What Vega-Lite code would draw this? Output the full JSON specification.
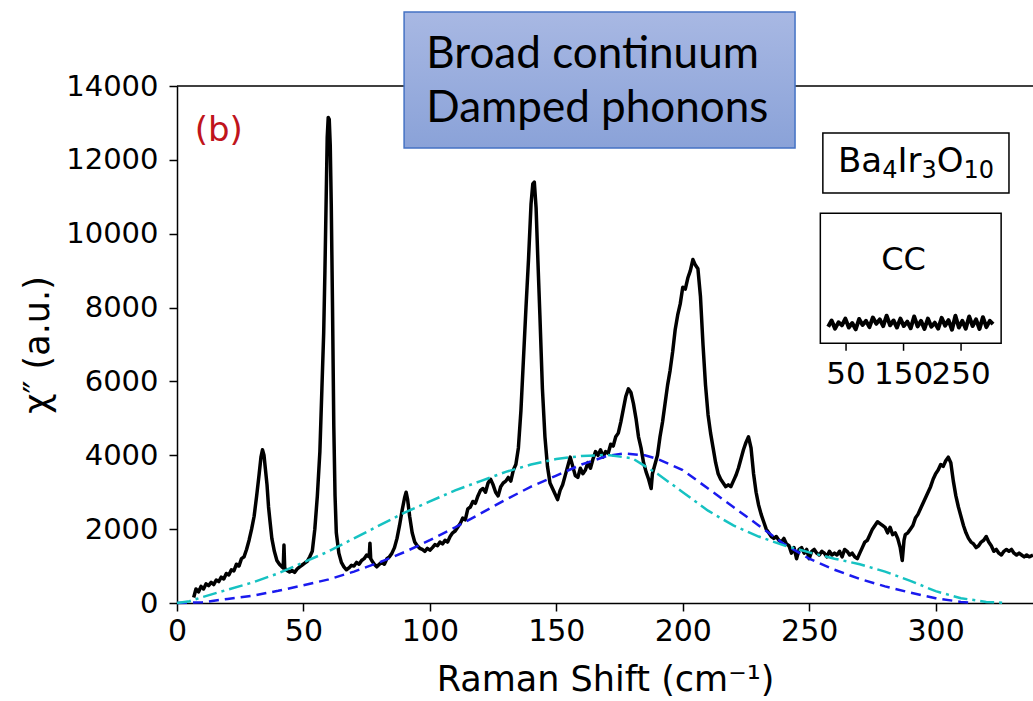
{
  "$schema": "https://vega.github.io/schema/vega-lite/v6.json",
  "width": 856,
  "height": 517,
  "autosize": {"type": "none"},
  "padding": {"left": 177, "top": 86, "right": 0, "bottom": 98},
  "background": "white",
  "config": {"view": {"stroke": null}, "font": "DejaVu Sans"},
  "data": {"values": [{"a": 1}]},
  "datasets": {
    "spec": [
      {"x":6.6,"y":150},{"x":7.5,"y":380},{"x":8.5,"y":300},{"x":9.5,"y":450},{"x":10.5,"y":380},{"x":11.5,"y":520},{"x":12.5,"y":470},{"x":13.5,"y":560},{"x":14.5,"y":500},{"x":15.5,"y":620},{"x":16.5,"y":580},{"x":17.5,"y":700},{"x":18.5,"y":650},{"x":19.5,"y":800},{"x":20.5,"y":760},{"x":21.5,"y":900},{"x":22.5,"y":870},{"x":23.5,"y":1050},{"x":24.5,"y":1000},{"x":25.5,"y":1200},{"x":26.5,"y":1250},{"x":27.5,"y":1450},{"x":28.5,"y":1700},{"x":29.5,"y":2000},{"x":30.5,"y":2350},{"x":31.5,"y":2900},{"x":32.5,"y":3500},{"x":33.2,"y":3950},{"x":33.8,"y":4150},{"x":34.4,"y":4000},{"x":35,"y":3600},{"x":35.6,"y":3200},{"x":36.2,"y":2600},{"x":36.8,"y":2200},{"x":37.5,"y":1750},{"x":38.5,"y":1400},{"x":39.5,"y":1150},{"x":40.5,"y":1050},{"x":41.5,"y":980},{"x":42,"y":950},{"x":42.3,"y":1570},{"x":42.6,"y":940},{"x":43.5,"y":880},{"x":44.5,"y":840},{"x":45.5,"y":880},{"x":46.5,"y":830},{"x":47.5,"y":920},{"x":48.5,"y":980},{"x":49.5,"y":1030},{"x":50.5,"y":1080},{"x":51.5,"y":1130},{"x":52.5,"y":1250},{"x":53.5,"y":1400},{"x":54.5,"y":2000},{"x":55.5,"y":2900},{"x":56.5,"y":4100},{"x":57.3,"y":5800},{"x":58,"y":7300},{"x":58.5,"y":9000},{"x":59,"y":11000},{"x":59.4,"y":12600},{"x":59.8,"y":13150},{"x":60.2,"y":13100},{"x":60.6,"y":12400},{"x":61,"y":10800},{"x":61.5,"y":8000},{"x":62,"y":4800},{"x":62.5,"y":2900},{"x":63,"y":1900},{"x":64,"y":1350},{"x":65,"y":1100},{"x":66,"y":980},{"x":67,"y":900},{"x":68,"y":950},{"x":69,"y":1020},{"x":70,"y":1000},{"x":71,"y":1100},{"x":72,"y":1050},{"x":73,"y":1150},{"x":74,"y":1200},{"x":75,"y":1300},{"x":76,"y":1250},{"x":76.3,"y":1620},{"x":76.6,"y":1200},{"x":77,"y":1150},{"x":78,"y":1050},{"x":79,"y":980},{"x":80,"y":1050},{"x":81,"y":1100},{"x":82,"y":1050},{"x":83,"y":1200},{"x":84,"y":1250},{"x":85,"y":1350},{"x":86,"y":1500},{"x":87,"y":1750},{"x":88,"y":2100},{"x":89,"y":2500},{"x":90,"y":2850},{"x":90.6,"y":3000},{"x":91.2,"y":2800},{"x":92,"y":2350},{"x":93,"y":1900},{"x":94,"y":1650},{"x":95,"y":1550},{"x":96,"y":1480},{"x":97,"y":1450},{"x":98,"y":1400},{"x":99,"y":1480},{"x":100,"y":1430},{"x":101,"y":1500},{"x":102,"y":1580},{"x":103,"y":1550},{"x":104,"y":1650},{"x":105,"y":1600},{"x":106,"y":1700},{"x":107,"y":1650},{"x":108,"y":1800},{"x":109,"y":1900},{"x":110,"y":1950},{"x":111,"y":2050},{"x":112,"y":2150},{"x":113,"y":2300},{"x":114,"y":2250},{"x":115,"y":2550},{"x":116,"y":2600},{"x":117,"y":2750},{"x":118,"y":2700},{"x":119,"y":2900},{"x":120,"y":3050},{"x":121,"y":3100},{"x":122,"y":3000},{"x":123,"y":3250},{"x":124,"y":3350},{"x":125,"y":3200},{"x":126,"y":3000},{"x":127,"y":2900},{"x":128,"y":3150},{"x":129,"y":3250},{"x":130,"y":3300},{"x":131,"y":3400},{"x":132,"y":3300},{"x":133,"y":3600},{"x":134,"y":3750},{"x":135,"y":4200},{"x":136,"y":5200},{"x":137,"y":6600},{"x":138,"y":8000},{"x":139,"y":9300},{"x":140,"y":10800},{"x":140.7,"y":11350},{"x":141.3,"y":11400},{"x":142,"y":10700},{"x":142.7,"y":9300},{"x":143.5,"y":7800},{"x":144.5,"y":5800},{"x":145.5,"y":4500},{"x":146.5,"y":3700},{"x":147.5,"y":3250},{"x":148.5,"y":3100},{"x":149.5,"y":2950},{"x":150.5,"y":2800},{"x":151.5,"y":3050},{"x":152.5,"y":3200},{"x":153.5,"y":3450},{"x":154.5,"y":3700},{"x":155.5,"y":3950},{"x":156.5,"y":3700},{"x":157.5,"y":3450},{"x":158.5,"y":3400},{"x":159.5,"y":3650},{"x":160.5,"y":3500},{"x":161.5,"y":3600},{"x":162.5,"y":3800},{"x":163.5,"y":3650},{"x":164.5,"y":3900},{"x":165.5,"y":4100},{"x":166.5,"y":4000},{"x":167.5,"y":4150},{"x":168.5,"y":3950},{"x":169.5,"y":4100},{"x":170.5,"y":4050},{"x":171.5,"y":4300},{"x":172.5,"y":4250},{"x":173.5,"y":4500},{"x":174.5,"y":4600},{"x":175.5,"y":4900},{"x":176.5,"y":5250},{"x":177.5,"y":5600},{"x":178.5,"y":5800},{"x":179.5,"y":5700},{"x":180.5,"y":5400},{"x":181.5,"y":5000},{"x":182.5,"y":4500},{"x":183.5,"y":4200},{"x":184.5,"y":3800},{"x":185.5,"y":3550},{"x":186.5,"y":3350},{"x":187.5,"y":3100},{"x":188,"y":3500},{"x":189,"y":3750},{"x":190,"y":4000},{"x":191,"y":4500},{"x":192,"y":4900},{"x":193,"y":5400},{"x":194,"y":5900},{"x":195,"y":6300},{"x":196,"y":6800},{"x":197,"y":7400},{"x":198,"y":7800},{"x":199,"y":8100},{"x":200,"y":8550},{"x":201,"y":8500},{"x":202,"y":8800},{"x":203,"y":9000},{"x":204,"y":9300},{"x":205,"y":9150},{"x":206,"y":9050},{"x":207,"y":8300},{"x":208,"y":7000},{"x":209,"y":5900},{"x":210,"y":5100},{"x":211,"y":4600},{"x":212,"y":4200},{"x":213,"y":3800},{"x":214,"y":3500},{"x":215,"y":3350},{"x":216,"y":3250},{"x":217,"y":3150},{"x":218,"y":3200},{"x":219,"y":3150},{"x":220,"y":3300},{"x":221,"y":3450},{"x":222,"y":3650},{"x":223,"y":3900},{"x":224,"y":4150},{"x":225,"y":4350},{"x":226,"y":4500},{"x":227,"y":4200},{"x":228,"y":3500},{"x":229,"y":3000},{"x":230,"y":2650},{"x":231,"y":2400},{"x":232,"y":2200},{"x":233,"y":2000},{"x":234,"y":1900},{"x":235,"y":1800},{"x":236,"y":1750},{"x":237,"y":1800},{"x":238,"y":1700},{"x":239,"y":1650},{"x":240,"y":1750},{"x":241,"y":1600},{"x":242,"y":1550},{"x":243,"y":1350},{"x":244,"y":1500},{"x":245,"y":1200},{"x":246,"y":1450},{"x":247,"y":1500},{"x":248,"y":1350},{"x":249,"y":1450},{"x":250,"y":1200},{"x":251,"y":1400},{"x":252,"y":1450},{"x":253,"y":1350},{"x":254,"y":1300},{"x":255,"y":1400},{"x":256,"y":1350},{"x":257,"y":1250},{"x":258,"y":1400},{"x":259,"y":1300},{"x":260,"y":1350},{"x":261,"y":1300},{"x":262,"y":1400},{"x":263,"y":1250},{"x":264,"y":1450},{"x":265,"y":1400},{"x":266,"y":1300},{"x":267,"y":1350},{"x":268,"y":1250},{"x":269,"y":1200},{"x":270,"y":1350},{"x":271,"y":1500},{"x":272,"y":1650},{"x":273,"y":1700},{"x":274,"y":1850},{"x":275,"y":2000},{"x":276,"y":2100},{"x":277,"y":2200},{"x":278,"y":2150},{"x":279,"y":2100},{"x":280,"y":2050},{"x":281,"y":1900},{"x":282,"y":2050},{"x":283,"y":1850},{"x":284,"y":1900},{"x":285,"y":1750},{"x":286,"y":1500},{"x":286.8,"y":1150},{"x":287.5,"y":1700},{"x":288,"y":1850},{"x":289,"y":1900},{"x":290,"y":2000},{"x":291,"y":2100},{"x":292,"y":2300},{"x":293,"y":2400},{"x":294,"y":2550},{"x":295,"y":2700},{"x":296,"y":2850},{"x":297,"y":3000},{"x":298,"y":3150},{"x":299,"y":3350},{"x":300,"y":3500},{"x":301,"y":3600},{"x":302,"y":3750},{"x":303,"y":3700},{"x":304,"y":3850},{"x":305,"y":3950},{"x":306,"y":3800},{"x":307,"y":3300},{"x":308,"y":2900},{"x":309,"y":2600},{"x":310,"y":2350},{"x":311,"y":2100},{"x":312,"y":1900},{"x":313,"y":1750},{"x":314,"y":1650},{"x":315,"y":1600},{"x":316,"y":1500},{"x":317,"y":1550},{"x":318,"y":1650},{"x":319,"y":1700},{"x":320,"y":1800},{"x":321,"y":1650},{"x":322,"y":1550},{"x":323,"y":1400},{"x":324,"y":1450},{"x":325,"y":1350},{"x":326,"y":1300},{"x":327,"y":1400},{"x":328,"y":1450},{"x":329,"y":1400},{"x":330,"y":1450},{"x":331,"y":1350},{"x":332,"y":1300},{"x":333,"y":1350},{"x":334,"y":1300},{"x":335,"y":1250},{"x":336,"y":1300},{"x":337,"y":1250},{"x":338.5,"y":1300}
    ],
    "blue": [
      {"x":0,"y":0},{"x":10,"y":20},{"x":20,"y":110},{"x":30,"y":200},{"x":40,"y":330},{"x":50,"y":480},{"x":60,"y":640},{"x":70,"y":850},{"x":80,"y":1100},{"x":90,"y":1380},{"x":100,"y":1700},{"x":110,"y":2050},{"x":120,"y":2420},{"x":130,"y":2800},{"x":140,"y":3150},{"x":150,"y":3450},{"x":160,"y":3750},{"x":170,"y":3980},{"x":177,"y":4050},{"x":185,"y":4000},{"x":190,"y":3900},{"x":200,"y":3600},{"x":210,"y":3100},{"x":220,"y":2600},{"x":230,"y":2100},{"x":240,"y":1600},{"x":250,"y":1200},{"x":260,"y":900},{"x":270,"y":650},{"x":280,"y":450},{"x":290,"y":280},{"x":300,"y":130},{"x":310,"y":30},{"x":315,"y":0}
    ],
    "cyan": [
      {"x":0,"y":0},{"x":5,"y":50},{"x":10,"y":160},{"x":20,"y":360},{"x":30,"y":560},{"x":40,"y":800},{"x":50,"y":1100},{"x":60,"y":1400},{"x":70,"y":1750},{"x":80,"y":2100},{"x":90,"y":2450},{"x":100,"y":2750},{"x":110,"y":3050},{"x":120,"y":3300},{"x":130,"y":3550},{"x":140,"y":3750},{"x":150,"y":3900},{"x":160,"y":3980},{"x":170,"y":4010},{"x":180,"y":3920},{"x":190,"y":3500},{"x":200,"y":3000},{"x":210,"y":2500},{"x":220,"y":2100},{"x":230,"y":1800},{"x":240,"y":1560},{"x":250,"y":1370},{"x":260,"y":1200},{"x":270,"y":1050},{"x":280,"y":850},{"x":290,"y":600},{"x":300,"y":320},{"x":310,"y":130},{"x":320,"y":30},{"x":328,"y":0}
    ],
    "cc": [
      {"x":257.5,"y":7480},{"x":258.86,"y":7650},{"x":260.22,"y":7430},{"x":261.58,"y":7600},{"x":262.94,"y":7520},{"x":264.3,"y":7700},{"x":265.66,"y":7460},{"x":267.02,"y":7580},{"x":268.38,"y":7410},{"x":269.74,"y":7690},{"x":271.1,"y":7530},{"x":272.46,"y":7640},{"x":273.82,"y":7470},{"x":275.18,"y":7730},{"x":276.54,"y":7560},{"x":277.9,"y":7680},{"x":279.26,"y":7500},{"x":280.62,"y":7780},{"x":281.98,"y":7520},{"x":283.34,"y":7650},{"x":284.7,"y":7460},{"x":286.06,"y":7700},{"x":287.42,"y":7500},{"x":288.78,"y":7620},{"x":290.14,"y":7440},{"x":291.5,"y":7760},{"x":292.86,"y":7490},{"x":294.22,"y":7640},{"x":295.58,"y":7420},{"x":296.94,"y":7700},{"x":298.3,"y":7480},{"x":299.66,"y":7590},{"x":301.02,"y":7430},{"x":302.38,"y":7720},{"x":303.74,"y":7510},{"x":305.1,"y":7660},{"x":306.46,"y":7400},{"x":307.82,"y":7780},{"x":309.18,"y":7460},{"x":310.54,"y":7640},{"x":311.9,"y":7430},{"x":313.26,"y":7760},{"x":314.62,"y":7500},{"x":315.98,"y":7680},{"x":317.34,"y":7420},{"x":318.7,"y":7740},{"x":320.06,"y":7470},{"x":321.42,"y":7640},{"x":322.7,"y":7550}
    ],
    "ccticks": [
      {"x": 264.57, "lab": "50"}, {"x": 287.31, "lab": "150"}, {"x": 310.05, "lab": "250"}
    ]
  },
  "layer": [
    {
      "mark": {"type": "rule", "color": "black", "strokeWidth": 1.5},
      "encoding": {"y": {"datum": 14000, "type": "quantitative"}}
    },
    {
      "data": {"name": "spec"},
      "mark": {"type": "line", "color": "black", "strokeWidth": 3.5, "strokeJoin": "round"},
      "encoding": {
        "x": {"field": "x", "type": "quantitative",
          "scale": {"domain": [0, 338.5], "nice": false, "zero": false},
          "axis": {"orient": "bottom", "values": [0,50,100,150,200,250,300], "format": "d", "title": "Raman Shift (cm⁻¹)", "grid": false,
            "tickSize": 8, "tickWidth": 1.5, "tickColor": "black", "domainColor": "black", "domainWidth": 1.5,
            "labelFont": "DejaVu Sans", "labelFontSize": 30, "labelColor": "black", "labelPadding": 5, "labelFlush": false,
            "titleFont": "DejaVu Sans", "titleFontSize": 35, "titleFontWeight": "normal", "titleColor": "black", "titlePadding": 16}},
        "y": {"field": "y", "type": "quantitative",
          "scale": {"domain": [0, 14000], "nice": false},
          "axis": {"orient": "left", "values": [0,2000,4000,6000,8000,10000,12000,14000], "format": "d", "title": "χ″ (a.u.)", "grid": false,
            "tickSize": 8, "tickWidth": 1.5, "tickColor": "black", "domainColor": "black", "domainWidth": 1.5,
            "labelFont": "DejaVu Sans", "labelFontSize": 29, "labelColor": "black", "labelPadding": 11,
            "titleFont": "DejaVu Sans", "titleFontSize": 35, "titleFontWeight": "normal", "titleColor": "black", "titlePadding": 10}}
      }
    },
    {
      "data": {"name": "blue"},
      "mark": {"type": "line", "color": "#1a1aee", "strokeWidth": 2.5, "strokeDash": [10, 6]},
      "encoding": {"x": {"field": "x", "type": "quantitative"}, "y": {"field": "y", "type": "quantitative"}}
    },
    {
      "data": {"name": "cyan"},
      "mark": {"type": "line", "color": "#16c2c2", "strokeWidth": 2.5, "strokeDash": [14, 5, 3, 5]},
      "encoding": {"x": {"field": "x", "type": "quantitative"}, "y": {"field": "y", "type": "quantitative"}}
    },
    {
      "mark": {"type": "rect", "stroke": "#4472c4", "strokeWidth": 1.5,
        "fill": {"gradient": "linear", "x1": 0, "y1": 0, "x2": 0, "y2": 1,
          "stops": [{"offset": 0, "color": "#a8b8e3"}, {"offset": 1, "color": "#8aa2d8"}]}},
      "encoding": {
        "x": {"datum": 89.8, "type": "quantitative"}, "x2": {"datum": 244.4},
        "y": {"datum": 12321, "type": "quantitative"}, "y2": {"datum": 16004}
      }
    },
    {
      "mark": {"type": "text", "font": "Lato", "fontSize": 44, "align": "left", "baseline": "alphabetic", "color": "black"},
      "encoding": {"x": {"datum": 98.6, "type": "quantitative"}, "y": {"datum": 14488, "type": "quantitative"}, "text": {"value": "Broad continuum"}}
    },
    {
      "mark": {"type": "text", "font": "Lato", "fontSize": 44, "align": "left", "baseline": "alphabetic", "color": "black"},
      "encoding": {"x": {"datum": 98.6, "type": "quantitative"}, "y": {"datum": 13025, "type": "quantitative"}, "text": {"value": "Damped phonons"}}
    },
    {
      "mark": {"type": "rect", "fill": "white", "stroke": "black", "strokeWidth": 1.5},
      "encoding": {
        "x": {"datum": 255.4, "type": "quantitative"}, "x2": {"datum": 329},
        "y": {"datum": 11103, "type": "quantitative"}, "y2": {"datum": 12728}
      }
    },
    {
      "mark": {"type": "text", "font": "DejaVu Sans", "fontSize": 34, "align": "left", "baseline": "alphabetic", "color": "black"},
      "encoding": {"x": {"datum": 261.37, "type": "quantitative"}, "y": {"datum": 11671, "type": "quantitative"}, "text": {"value": "Ba"}}
    },
    {
      "mark": {"type": "text", "font": "DejaVu Sans", "fontSize": 24, "align": "left", "baseline": "alphabetic", "color": "black"},
      "encoding": {"x": {"datum": 278.85, "type": "quantitative"}, "y": {"datum": 11500, "type": "quantitative"}, "text": {"value": "4"}}
    },
    {
      "mark": {"type": "text", "font": "DejaVu Sans", "fontSize": 34, "align": "left", "baseline": "alphabetic", "color": "black"},
      "encoding": {"x": {"datum": 284.9, "type": "quantitative"}, "y": {"datum": 11671, "type": "quantitative"}, "text": {"value": "Ir"}}
    },
    {
      "mark": {"type": "text", "font": "DejaVu Sans", "fontSize": 24, "align": "left", "baseline": "alphabetic", "color": "black"},
      "encoding": {"x": {"datum": 294.39, "type": "quantitative"}, "y": {"datum": 11500, "type": "quantitative"}, "text": {"value": "3"}}
    },
    {
      "mark": {"type": "text", "font": "DejaVu Sans", "fontSize": 34, "align": "left", "baseline": "alphabetic", "color": "black"},
      "encoding": {"x": {"datum": 300.44, "type": "quantitative"}, "y": {"datum": 11671, "type": "quantitative"}, "text": {"value": "O"}}
    },
    {
      "mark": {"type": "text", "font": "DejaVu Sans", "fontSize": 24, "align": "left", "baseline": "alphabetic", "color": "black"},
      "encoding": {"x": {"datum": 311.03, "type": "quantitative"}, "y": {"datum": 11500, "type": "quantitative"}, "text": {"value": "10"}}
    },
    {
      "mark": {"type": "text", "font": "DejaVu Sans", "fontSize": 34, "align": "left", "baseline": "alphabetic", "color": "#c0141c"},
      "encoding": {"x": {"datum": 7.0, "type": "quantitative"}, "y": {"datum": 12500, "type": "quantitative"}, "text": {"value": "(b)"}}
    },
    {
      "mark": {"type": "rect", "fill": "white", "stroke": "black", "strokeWidth": 1.5},
      "encoding": {
        "x": {"datum": 254.4, "type": "quantitative"}, "x2": {"datum": 325.9},
        "y": {"datum": 7032, "type": "quantitative"}, "y2": {"datum": 10553}
      }
    },
    {
      "data": {"name": "cc"},
      "mark": {"type": "line", "color": "black", "strokeWidth": 4, "strokeJoin": "round"},
      "encoding": {"x": {"field": "x", "type": "quantitative"}, "y": {"field": "y", "type": "quantitative"}}
    },
    {
      "data": {"name": "ccticks"},
      "mark": {"type": "rule", "color": "black", "strokeWidth": 1.5},
      "encoding": {"x": {"field": "x", "type": "quantitative"}, "y": {"datum": 7032, "type": "quantitative"}, "y2": {"datum": 6830}}
    },
    {
      "data": {"name": "ccticks"},
      "mark": {"type": "text", "font": "DejaVu Sans", "fontSize": 31, "align": "center", "baseline": "alphabetic", "color": "black"},
      "encoding": {"x": {"field": "x", "type": "quantitative"}, "y": {"datum": 5930, "type": "quantitative"}, "text": {"field": "lab"}}
    },
    {
      "mark": {"type": "text", "font": "DejaVu Sans", "fontSize": 32, "align": "center", "baseline": "middle", "color": "black"},
      "encoding": {"x": {"datum": 287.3, "type": "quantitative"}, "y": {"datum": 9288, "type": "quantitative"}, "text": {"value": "CC"}}
    }
  ]
}
